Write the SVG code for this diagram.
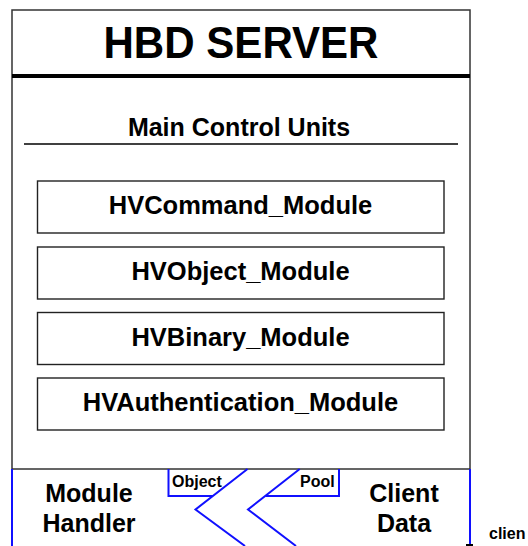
<svg xmlns="http://www.w3.org/2000/svg" width="528" height="546" viewBox="0 0 528 546">
<style>
text{font-family:"Liberation Sans",Arial,sans-serif;font-weight:bold;fill:#000}
.box{fill:#fff;stroke:#222;stroke-width:1.4}
.blue{fill:none;stroke:#1010ff;stroke-width:2}
.mod{font-size:25.5px;text-anchor:middle}
.big{font-size:25px;text-anchor:middle}
.small{font-size:16px}
</style>
<rect width="528" height="546" fill="#fff"/>
<g id="server">
<rect x="12" y="10" width="458" height="459" fill="#fff" stroke="#333" stroke-width="1.5"/>
<line x1="12" y1="76" x2="470" y2="76" stroke="#000" stroke-width="4"/>
<text x="241" y="58" font-size="44" text-anchor="middle" textLength="275" lengthAdjust="spacingAndGlyphs">HBD SERVER</text>
<text x="239" y="136" font-size="25" text-anchor="middle">Main Control Units</text>
<line x1="24" y1="144" x2="458" y2="144" stroke="#000" stroke-width="1.5"/>
</g>
<g id="hvcommand">
<rect class="box" x="37.5" y="181" width="406.5" height="52"/>
<text class="mod" x="240.5" y="214">HVCommand_Module</text>
</g>
<g id="hvobject">
<rect class="box" x="37.5" y="247" width="406.5" height="52"/>
<text class="mod" x="240.5" y="280">HVObject_Module</text>
</g>
<g id="hvbinary">
<rect class="box" x="37.5" y="312.5" width="406.5" height="52"/>
<text class="mod" x="240.5" y="345.5">HVBinary_Module</text>
</g>
<g id="hvauth">
<rect class="box" x="37.5" y="378" width="406.5" height="52"/>
<text class="mod" x="240.5" y="411">HVAuthentication_Module</text>
</g>
<g id="module-handler">
<line class="blue" x1="12" y1="469" x2="12" y2="546"/>
<text class="big" x="89" y="502">Module</text>
<text class="big" x="89" y="532">Handler</text>
</g>
<g id="client-data">
<line class="blue" x1="470" y1="469" x2="470" y2="545"/>
<line x1="466" y1="545" x2="473" y2="545" stroke="#000" stroke-width="2"/>
<text class="big" x="404" y="502">Client</text>
<text class="big" x="404" y="532">Data</text>
</g>
<g id="object-pool">
<polyline class="blue" points="168.5,469 168.5,496 213,496"/>
<polyline class="blue" points="339,469 339,496 265.5,496"/>
<text class="small" x="172" y="486.5">Object</text>
<text class="small" x="300" y="486.5">Pool</text>
</g>
<g id="connectors">
<polyline class="blue" points="247.5,469 195.5,509.5 245,546"/>
<polyline class="blue" points="299.7,469 248,509.5 296,546"/>
</g>
<g id="client-label">
<text class="small" x="489" y="539">clien</text>
</g>
</svg>
